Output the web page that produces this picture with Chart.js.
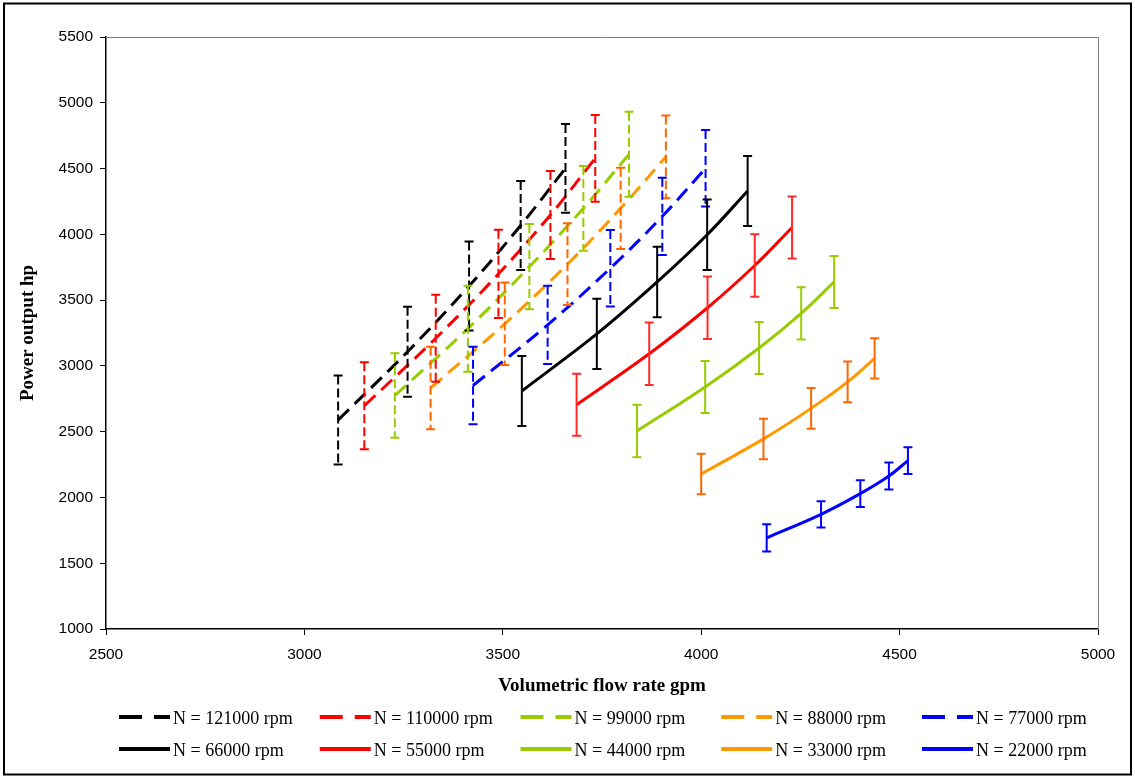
<!DOCTYPE html>
<html>
<head>
<meta charset="utf-8">
<script src="https://cdn.jsdelivr.net/npm/chart.js@4.4.1/dist/chart.umd.min.js"></script>
<style>
  html, body { margin: 0; padding: 0; background: #fff; }
  #wrap { width: 1135px; height: 778px; position: relative; }
</style>
</head>
<body>
<div id="wrap"><canvas id="c" width="1135" height="778"></canvas></div>
<script>
// ---- Data ----
const xTicks = [2500, 3000, 3500, 4000, 4500, 5000];
const yTicks = [1000, 1500, 2000, 2500, 3000, 3500, 4000, 4500, 5000, 5500];

const labels = [
  'N = 121000 rpm', 'N = 110000 rpm', 'N = 99000 rpm', 'N = 88000 rpm', 'N = 77000 rpm',
  'N = 66000 rpm', 'N = 55000 rpm', 'N = 44000 rpm', 'N = 33000 rpm', 'N = 22000 rpm'
];

const flow121 = [3085, 3260, 3415, 3545, 3658];
const power121 = [2589, 3108, 3607, 4067, 4502];
const err121 = [338, 342, 338, 338, 337];

const flow110 = [3151, 3331, 3489, 3620, 3733];
const power110 = [2697, 3210, 3699, 4147, 4578];
const err110 = [331, 330, 335, 334, 330];

const flow99 = [3228, 3412, 3567, 3703, 3818];
const power99 = [2775, 3283, 3754, 4198, 4608];
const err99 = [321, 327, 324, 322, 323];

const flow88 = [3318, 3505, 3663, 3797, 3911];
const power88 = [2832, 3320, 3773, 4198, 4589];
const err88 = [314, 313, 311, 309, 315];

const flow77 = [3425, 3613, 3771, 3902, 4011];
const power77 = [2851, 3312, 3742, 4137, 4502];
const err77 = [295, 298, 291, 294, 291];

const flow66 = [3548, 3737, 3889, 4015, 4117];
const power66 = [2809, 3243, 3638, 3997, 4329];
const err66 = [266, 267, 268, 268, 266];

const flow55 = [3686, 3869, 4016, 4135, 4229];
const power55 = [2705, 3092, 3442, 3763, 4052];
const err55 = [236, 237, 237, 237, 236];

const flow44 = [3838, 4010, 4146, 4252, 4335];
const power44 = [2505, 2840, 3136, 3399, 3638];
const err44 = [199, 198, 198, 198, 198];

const flow33 = [4000, 4157, 4277, 4369, 4437];
const power33 = [2178, 2445, 2677, 2878, 3057];
const err33 = [154, 154, 154, 155, 153];

const flow22 = [4165, 4302, 4401, 4473, 4521];
const power22 = [1693, 1872, 2029, 2163, 2280];
const err22 = [104, 100, 101, 103, 101];

// ---- Styles ----
const seriesFlow = [flow121, flow110, flow99, flow88, flow77, flow66, flow55, flow44, flow33, flow22];
const seriesPower = [power121, power110, power99, power88, power77, power66, power55, power44, power33, power22];
const seriesErr = [err121, err110, err99, err88, err77, err66, err55, err44, err33, err22];
const lineColors = ['#000000', '#FF0000', '#99CC00', '#FF9900', '#0000FF',
                    '#000000', '#FF0000', '#99CC00', '#FF9900', '#0000FF'];
const errColors = ['#000000', '#FF0000', '#99CC00', '#FF6600', '#0000FF',
                   '#000000', '#FF2A2A', '#99CC00', '#FF6600', '#0000FF'];

const datasets = labels.map((lab, i) => ({
  label: lab,
  data: seriesFlow[i].map((fx, j) => ({ x: fx, y: seriesPower[i][j] })),
  errors: seriesErr[i],
  errorColor: errColors[i],
  dashed: i < 5,
  showLine: true,
  borderColor: lineColors[i],
  backgroundColor: lineColors[i],
  borderWidth: 3,
  borderDash: i < 5 ? [15, 8] : [],
  pointRadius: 0,
  pointHoverRadius: 0,
  tension: 0.35
}));

const serif = '"Liberation Serif", "Times New Roman", serif';
const sans = '"Liberation Sans", Arial, sans-serif';

const errorBars = {
  id: 'errorBars',
  afterDatasetsDraw(chart) {
    const { ctx } = chart;
    const xs = chart.scales.x, ys = chart.scales.y;
    chart.data.datasets.forEach((ds, i) => {
      ctx.save();
      ctx.strokeStyle = ds.errorColor;
      ctx.lineWidth = 2;
      ds.data.forEach((p, j) => {
        const e = ds.errors[j];
        const px = xs.getPixelForValue(p.x);
        const yt = ys.getPixelForValue(p.y + e);
        const yb = ys.getPixelForValue(p.y - e);
        ctx.setLineDash(ds.dashed ? [9, 4] : []);
        ctx.beginPath();
        ctx.moveTo(px, yt);
        ctx.lineTo(px, yb);
        ctx.stroke();
        ctx.setLineDash([]);
        ctx.beginPath();
        ctx.moveTo(px - 4.5, yt); ctx.lineTo(px + 4.5, yt);
        ctx.moveTo(px - 4.5, yb); ctx.lineTo(px + 4.5, yb);
        ctx.stroke();
      });
      ctx.restore();
    });
  }
};

const frame = {
  id: 'frame',
  beforeDatasetsDraw(chart) {
    const { ctx, chartArea: a } = chart;
    ctx.save();
    ctx.strokeStyle = '#808080';
    ctx.lineWidth = 1;
    ctx.beginPath();
    ctx.moveTo(a.left, a.top + 0.5);
    ctx.lineTo(a.right + 0.5, a.top + 0.5);
    ctx.lineTo(a.right + 0.5, a.bottom);
    ctx.stroke();
    ctx.restore();
  },
  afterDraw(chart) {
    const { ctx } = chart;
    ctx.save();
    ctx.strokeStyle = '#000';
    ctx.lineWidth = 2;
    ctx.strokeRect(4, 3.5, chart.width - 8, chart.height - 7);
    ctx.restore();
  }
};

const customLegend = {
  id: 'customLegend',
  afterDraw(chart) {
    const { ctx } = chart;
    ctx.save();
    ctx.font = '18px ' + serif;
    ctx.textBaseline = 'middle';
    ctx.textAlign = 'left';
    chart.data.datasets.forEach((ds, i) => {
      const col = i % 5, row = Math.floor(i / 5);
      const x0 = 119 + col * 200.75;
      const yLine = 717 + row * 32;
      const yText = 719 + row * 32;
      ctx.strokeStyle = ds.borderColor;
      ctx.lineWidth = 4;
      ctx.setLineDash(ds.dashed ? [23, 12] : []);
      ctx.beginPath();
      ctx.moveTo(x0, yLine);
      ctx.lineTo(x0 + 51, yLine);
      ctx.stroke();
      ctx.setLineDash([]);
      ctx.fillStyle = '#000';
      ctx.fillText(ds.label, x0 + 54, yText);
    });
    ctx.restore();
  }
};

new Chart(document.getElementById('c'), {
  type: 'scatter',
  data: { datasets },
  options: {
    responsive: false,
    animation: false,
    events: [],
    layout: { padding: { left: 0, top: 37, right: 37, bottom: 77 } },
    plugins: { legend: { display: false }, tooltip: { enabled: false } },
    scales: {
      x: {
        type: 'linear',
        min: xTicks[0], max: xTicks[xTicks.length - 1],
        afterBuildTicks: (s) => { s.ticks = xTicks.map(v => ({ value: v })); },
        afterFit: (s) => { s.height = 72; },
        grid: { drawOnChartArea: false, drawTicks: true, tickLength: 6, tickColor: '#000', tickWidth: 1 },
        border: { display: true, color: '#000', width: 1.5 },
        ticks: { color: '#000', font: { family: sans, size: 15.5 }, padding: 10, maxRotation: 0,
                 callback: (v) => String(v) },
        title: { display: true, text: 'Volumetric flow rate gpm', color: '#000',
                 font: { family: serif, size: 19, weight: 'bold' }, padding: { top: 0, bottom: 4 } }
      },
      y: {
        type: 'linear',
        min: yTicks[0], max: yTicks[yTicks.length - 1],
        afterBuildTicks: (s) => { s.ticks = yTicks.map(v => ({ value: v })); },
        afterFit: (s) => { s.width = 106; },
        grid: { drawOnChartArea: false, drawTicks: true, tickLength: 6, tickColor: '#000', tickWidth: 1 },
        border: { display: true, color: '#000', width: 1.5 },
        ticks: { color: '#000', font: { family: sans, size: 15.5 }, padding: 7,
                 callback: (v) => String(v) },
        title: { display: true, text: 'Power output hp', color: '#000',
                 font: { family: serif, size: 19, weight: 'bold' }, padding: { top: 17, bottom: 0 } }
      }
    }
  },
  plugins: [frame, errorBars, customLegend]
});
</script>
</body>
</html>
